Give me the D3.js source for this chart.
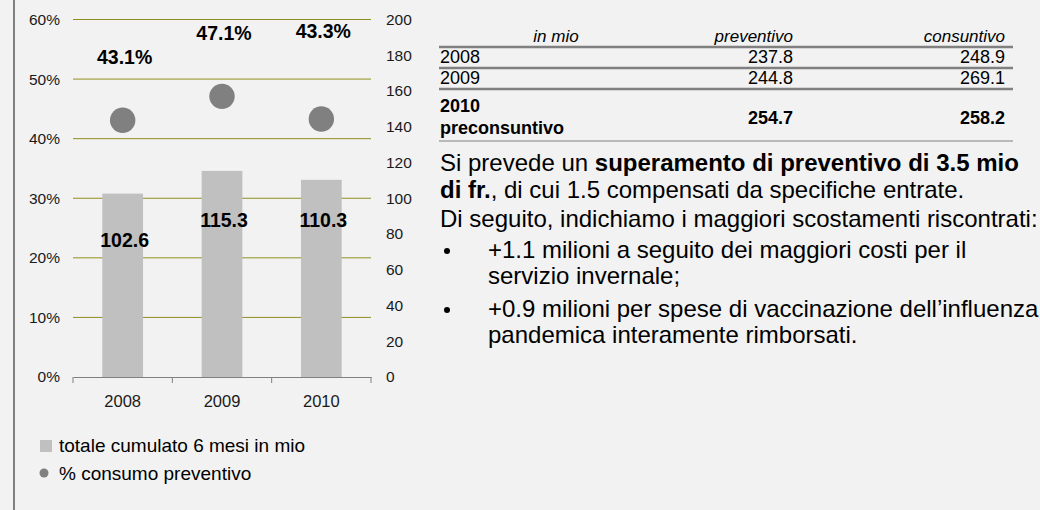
<!DOCTYPE html>
<html>
<head>
<meta charset="utf-8">
<script src="https://cdn.jsdelivr.net/npm/d3@7"></script>
<style>
    html, body { margin: 0; padding: 0; background: #f2f2f2; }
    svg { display: block; font-family: "Liberation Sans", Arial, sans-serif; }
</style>
</head>
<body>
<svg width="1040" height="510"></svg>
<script>
// chart data
const years = ["2008", "2009", "2010"];
const totals = [102.6, 115.3, 110.3];          // totale cumulato 6 mesi in mio
const consumo = [0.431, 0.471, 0.433];         // % consumo preventivo
const pctTicks = [0, 0.1, 0.2, 0.3, 0.4, 0.5, 0.6];
const valTicks = [0, 20, 40, 60, 80, 100, 120, 140, 160, 180, 200];

// table data
const tableHeader = ["in mio", "preventivo", "consuntivo"];
const tableRows = ["2008", "2009", "2010"];
const preventivo = [237.8, 244.8, 254.7];
const consuntivo = [248.9, 269.1, 258.2];

const svg = d3.select("svg");
const W = 1040, H = 510;

svg.append("rect").attr("width", W).attr("height", H).attr("fill", "#f2f2f2");
// left frame line
svg.append("line")
    .attr("x1", 14).attr("x2", 14).attr("y1", 0).attr("y2", H)
    .attr("stroke", "#808080").attr("stroke-width", 2);

// ---- chart ----
const x = d3.scaleBand().domain(years).range([73, 371])
    .paddingInner(0.59).paddingOuter(0.295);
const yPct = d3.scaleLinear().domain([0, 0.6]).range([377, 19.5]);
const yVal = d3.scaleLinear().domain([0, 200]).range([377, 19.5]);

const chart = svg.append("g");

chart.append("g").selectAll("line")
    .data(pctTicks.slice(1))
    .join("line")
    .attr("x1", 73).attr("x2", 371)
    .attr("y1", d => yPct(d)).attr("y2", d => yPct(d))
    .attr("stroke", "#8f8f20").attr("stroke-width", 1);

const leftAxis = chart.append("g")
    .attr("transform", "translate(73,0)")
    .call(d3.axisLeft(yPct).tickValues(pctTicks).tickFormat(d3.format(".0%")).tickSize(0).tickPadding(13));
const rightAxis = chart.append("g")
    .attr("transform", "translate(371,0)")
    .call(d3.axisRight(yVal).tickValues(valTicks).tickSize(0).tickPadding(15));
[leftAxis, rightAxis].forEach(a => {
    a.select(".domain").remove();
    a.selectAll("text").attr("font-size", 15.5).attr("fill", "#1a1a1a")
        .attr("font-family", "Liberation Sans, Arial, sans-serif");
});

chart.selectAll("rect.bar")
    .data(totals)
    .join("rect")
    .attr("class", "bar")
    .attr("x", (d, i) => x(years[i]))
    .attr("width", x.bandwidth())
    .attr("y", d => yVal(d))
    .attr("height", d => yVal(0) - yVal(d))
    .attr("fill", "#c0c0c0");

const bottomAxis = chart.append("g")
    .attr("transform", "translate(0,377)")
    .call(d3.axisBottom(x).tickSizeInner(5).tickSizeOuter(0).tickPadding(13));
bottomAxis.select(".domain").attr("stroke", "#808080");
bottomAxis.selectAll(".tick line").remove();
bottomAxis.selectAll("text").attr("font-size", 16.5).attr("fill", "#1a1a1a")
    .attr("font-family", "Liberation Sans, Arial, sans-serif");
// category boundary ticks
const bounds = [73].concat(years.map(d => x(d) + x.bandwidth() + x.step() * x.paddingInner() / 2));
bounds[bounds.length - 1] = 371;
chart.append("g").selectAll("line")
    .data(bounds)
    .join("line")
    .attr("x1", d => d).attr("x2", d => d)
    .attr("y1", 377).attr("y2", 383)
    .attr("stroke", "#808080");

chart.selectAll("circle.dot")
    .data(consumo)
    .join("circle")
    .attr("class", "dot")
    .attr("cx", (d, i) => x(years[i]) + x.bandwidth() / 2)
    .attr("cy", d => yPct(d))
    .attr("r", 12.7)
    .attr("fill", "#808080");

// data labels
const pctLabelDy = [56, 56, 81];
const barLabelDy = [53, 56, 47];
chart.selectAll("text.pct")
    .data(consumo)
    .join("text")
    .attr("class", "pct")
    .attr("x", (d, i) => x(years[i]) + x.bandwidth() / 2 + 2)
    .attr("y", (d, i) => yPct(d) - pctLabelDy[i])
    .attr("text-anchor", "middle")
    .attr("font-size", 19.5).attr("font-weight", "bold")
    .text(d => d3.format(".1%")(d));
chart.selectAll("text.val")
    .data(totals)
    .join("text")
    .attr("class", "val")
    .attr("x", (d, i) => x(years[i]) + x.bandwidth() / 2 + 2)
    .attr("y", (d, i) => yVal(d) + barLabelDy[i])
    .attr("text-anchor", "middle")
    .attr("font-size", 19.5).attr("font-weight", "bold")
    .text(d => d3.format(".1f")(d));

// legend
const legend = svg.append("g").attr("font-size", 19);
legend.append("rect").attr("x", 40).attr("y", 440).attr("width", 12).attr("height", 12).attr("fill", "#c0c0c0");
legend.append("text").attr("x", 59).attr("y", 452).text("totale cumulato 6 mesi in mio");
legend.append("circle").attr("cx", 44).attr("cy", 473).attr("r", 4.5).attr("fill", "#808080");
legend.append("text").attr("x", 59).attr("y", 480).text("% consumo preventivo");

// ---- table ----
const table = svg.append("g").attr("font-size", 18);
const tLeft = 439, tRight = 1013, colPrev = 793, colCons = 1005;
const rowBase = [63, 84];
const lines = [47, 68, 89];

table.append("text").attr("x", 556).attr("y", 42).attr("text-anchor", "middle")
    .attr("font-style", "italic").attr("font-size", 17).text(tableHeader[0]);
table.append("text").attr("x", colPrev).attr("y", 42).attr("text-anchor", "end")
    .attr("font-style", "italic").attr("font-size", 17).text(tableHeader[1]);
table.append("text").attr("x", colCons).attr("y", 42).attr("text-anchor", "end")
    .attr("font-style", "italic").attr("font-size", 17).text(tableHeader[2]);

table.selectAll("line.rule")
    .data(lines)
    .join("line")
    .attr("x1", tLeft).attr("x2", tRight)
    .attr("y1", d => d).attr("y2", d => d)
    .attr("stroke", "#808080").attr("stroke-width", 2.5);
table.append("line")
    .attr("x1", tLeft).attr("x2", tRight).attr("y1", 141).attr("y2", 141)
    .attr("stroke", "#808080").attr("stroke-width", 1);

tableRows.slice(0, 2).forEach((r, i) => {
    table.append("text").attr("x", tLeft + 1).attr("y", rowBase[i]).text(r);
    table.append("text").attr("x", colPrev).attr("y", rowBase[i]).attr("text-anchor", "end").text(preventivo[i].toFixed(1));
    table.append("text").attr("x", colCons).attr("y", rowBase[i]).attr("text-anchor", "end").text(consuntivo[i].toFixed(1));
});
const last = table.append("g").attr("font-weight", "bold");
last.append("text").attr("x", tLeft + 1).attr("y", 112).text(tableRows[2]);
last.append("text").attr("x", tLeft + 1).attr("y", 134).text("preconsuntivo");
last.append("text").attr("x", colPrev).attr("y", 124).attr("text-anchor", "end").text(preventivo[2].toFixed(1));
last.append("text").attr("x", colCons).attr("y", 124).attr("text-anchor", "end").text(consuntivo[2].toFixed(1));

// ---- commentary ----
const note = svg.append("g").attr("font-size", 24).attr("fill", "#000");
const p1 = note.append("text").attr("x", 440).attr("y", 171);
p1.append("tspan").text("Si prevede un ");
p1.append("tspan").attr("font-weight", "bold").text("superamento di preventivo di 3.5 mio");
const p2 = note.append("text").attr("x", 440).attr("y", 198);
p2.append("tspan").attr("font-weight", "bold").text("di fr.");
p2.append("tspan").text(", di cui 1.5 compensati da specifiche entrate.");
note.append("text").attr("x", 440).attr("y", 227)
    .text("Di seguito, indichiamo i maggiori scostamenti riscontrati:");

const bullets = [
    ["+1.1 milioni a seguito dei maggiori costi per il", "servizio invernale;"],
    ["+0.9 milioni per spese di vaccinazione dell\u2019influenza", "pandemica interamente rimborsati."]
];
const bulletBase = [258, 317];
bullets.forEach((b, i) => {
    note.append("circle").attr("cx", 447).attr("cy", bulletBase[i] - 7).attr("r", 3).attr("fill", "#000");
    b.forEach((t, j) => {
        note.append("text").attr("x", 488).attr("y", bulletBase[i] + j * 26).text(t);
    });
});
</script>
</body>
</html>
